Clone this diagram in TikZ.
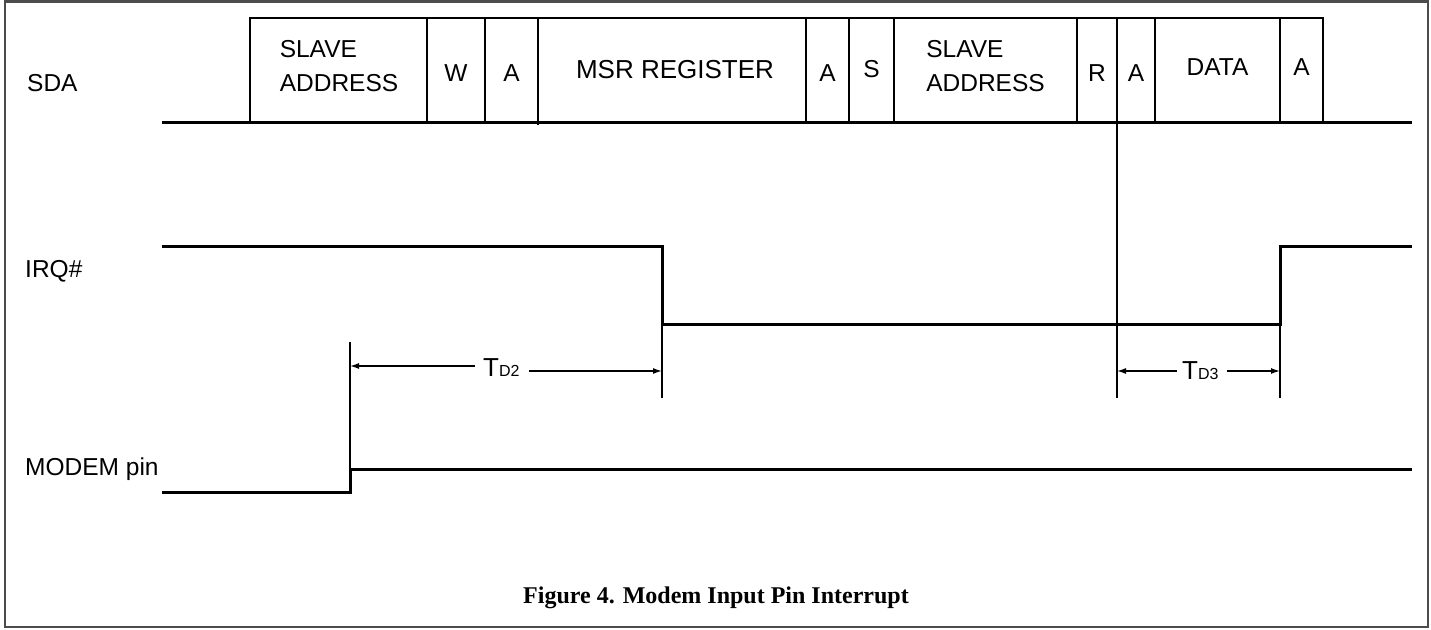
\documentclass[tikz,border=0pt]{standalone}
\usepackage{fontspec}
\setmainfont{Liberation Sans}
\newfontfamily\capfont{Liberation Serif}
\usetikzlibrary{arrows.meta}
\begin{document}
\begin{tikzpicture}[x=1pt,y=-1pt,
  sig/.style={line width=3pt,line join=miter},
  boxl/.style={line width=2.6pt},
  ext/.style={line width=1.4pt},
  dim/.style={line width=1.4pt,-{Latex[length=9pt,width=6pt]}},
  lbl/.style={font=\fontsize{24.5}{28}\selectfont,inner sep=0pt},
  fld/.style={font=\fontsize{24.5}{34}\selectfont,inner sep=0pt,align=left},
  sub/.style={font=\fontsize{26}{30}\selectfont,inner sep=0pt}]
\useasboundingbox (0,0) rectangle (1431,629);
\draw[line width=2.2pt,draw=black!70] (5,1.5) rectangle (1428,627);
% signal names
\node[lbl,anchor=west] (sda) at (27,83) {SDA};
\node[lbl,anchor=west] (irq) at (25,271) {IRQ\#};
\node[lbl,anchor=west] (modem) at (25,469) {MODEM pin};
% SDA
\draw[sig] (162,122) -- (1412,122);
\draw[boxl] (250,122) -- (250,18) -- (1323,18) -- (1323,122);
\foreach \xx in {427,485,806,849,894,1077,1155,1280}
  \draw[boxl] (\xx,18) -- (\xx,122);
\draw[boxl] (538,18) -- (538,125);
\draw[boxl] (1117,18) -- (1117,122);
\node[fld] (f1) at (339,66) {SLAVE\\ADDRESS};
\node[fld] (f2) at (456,73) {W};
\node[fld] (f3) at (511.5,73) {A};
\node[fld,font=\fontsize{26}{30}\selectfont] (f4) at (675,70) {MSR REGISTER};
\node[fld] (f5) at (827.5,73) {A};
\node[fld] (f6) at (871.5,69) {S};
\node[fld] (f7) at (985.5,66) {SLAVE\\ADDRESS};
\node[fld] (f8) at (1097,73) {R};
\node[fld] (f9) at (1136,73) {A};
\node[fld] (f10) at (1217.5,67) {DATA};
\node[fld] (f11) at (1301.5,67) {A};
% IRQ
\draw[sig] (162,246) -- (662,246) -- (662,324) -- (1280,324) -- (1280,246) -- (1412,246);
% MODEM
\draw[sig] (162,492) -- (350,492) -- (350,469) -- (1412,469);
% extension lines
\draw[ext] (350,342) -- (350,469);
\draw[ext] (662,324) -- (662,398);
\draw[ext] (1117,122) -- (1117,398);
\draw[ext] (1280,324) -- (1280,398);
% TD2
\node[sub,anchor=west] (td2) at (483,368) {T\fontsize{16}{18}\selectfont D2};
\coordinate (a1) at (350,366);
\coordinate (a2) at (662,371);
\draw[dim] (td2.west|-a1) ++(-8,0) -- (a1);
\draw[dim] (td2.east|-a2) ++(9,0) -- (a2);
% TD3
\node[sub,anchor=west] (td3) at (1182,371) {T\fontsize{16}{18}\selectfont D3};
\coordinate (b1) at (1117,371);
\coordinate (b2) at (1280,371);
\draw[dim] (td3.west|-b1) ++(-5,0) -- (b1);
\draw[dim] (td3.east|-b2) ++(8,0) -- (b2);
% caption
\node[font=\capfont\bfseries\fontsize{24}{28}\selectfont,inner sep=0pt] (cap) at (716,598) {Figure 4. Modem Input Pin Interrupt};
\end{tikzpicture}
\end{document}
